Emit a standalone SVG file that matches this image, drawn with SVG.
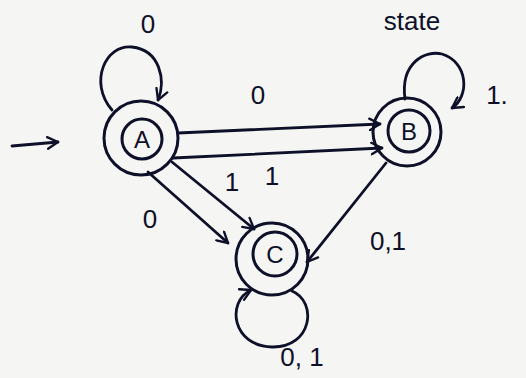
<svg xmlns="http://www.w3.org/2000/svg" width="526" height="378" viewBox="0 0 526 378">
<defs>
<marker id="ah" viewBox="0 0 12 12" refX="10" refY="6" markerWidth="14" markerHeight="14" markerUnits="userSpaceOnUse" orient="auto">
<path d="M1 1 L10 6 L1 11" fill="none" stroke="#0d1028" stroke-width="2" stroke-linecap="round" stroke-linejoin="round"/>
</marker>
<style>
.st{fill:none;stroke:#0d1028;stroke-width:3}
.ed{fill:none;stroke:#0d1028;stroke-width:2.8;stroke-linecap:round;marker-end:url(#ah)}
.lb{font-family:"Liberation Sans",Arial,sans-serif;fill:#0d1028;font-size:26px;text-anchor:middle}
.nl{font-family:"Liberation Sans",Arial,sans-serif;fill:#0d1028;font-size:24px;text-anchor:middle}
</style>
</defs>
<rect width="526" height="378" fill="#f5f5f3"/>
<g id="connectors">
<path id="start" class="ed" d="M12 146 L58 142"/>
<path id="loopA" class="ed" d="M112 110 C88 82 106 44 132 47 C160 50 166 80 158 100"/>
<path id="AB0" class="ed" d="M178 133 L380 124"/>
<path id="AB1" class="ed" d="M173 158 L382 148"/>
<path id="loopB" class="ed" d="M405 99 C400 62 426 50 442 54 C468 62 470 96 452 108"/>
<path id="AC0" class="ed" d="M148 172 L228 243"/>
<path id="AC1" class="ed" d="M172 162 L254 229"/>
<path id="BC" class="ed" d="M386 163 L307 262"/>
<path id="loopC" class="ed" d="M292 291 C318 302 312 348 272 347 C232 346 226 302 251 290"/>
</g>
<g id="labels">
<text class="lb" x="148" y="33">0</text>
<text class="lb" x="258" y="104">0</text>
<text class="lb" x="272" y="185">1</text>
<text class="lb" x="232" y="191">1</text>
<text class="lb" x="150" y="228">0</text>
<text class="lb" x="412" y="30">state</text>
<text class="lb" x="497" y="104">1.</text>
<text class="lb" x="388" y="250">0,1</text>
<text class="lb" x="302" y="366">0, 1</text>
</g>
<g id="A">
<circle class="st" cx="141" cy="138" r="37"/>
<circle class="st" cx="142" cy="139" r="20"/>
<text class="nl" x="142" y="148">A</text>
</g>
<g id="B">
<circle class="st" cx="407" cy="132" r="34"/>
<circle class="st" cx="409" cy="131" r="21"/>
<text class="nl" x="409" y="140">B</text>
</g>
<g id="C">
<circle class="st" cx="272" cy="259" r="36"/>
<circle class="st" cx="275" cy="254" r="22"/>
<text class="nl" x="275" y="263">C</text>
</g>
</svg>
